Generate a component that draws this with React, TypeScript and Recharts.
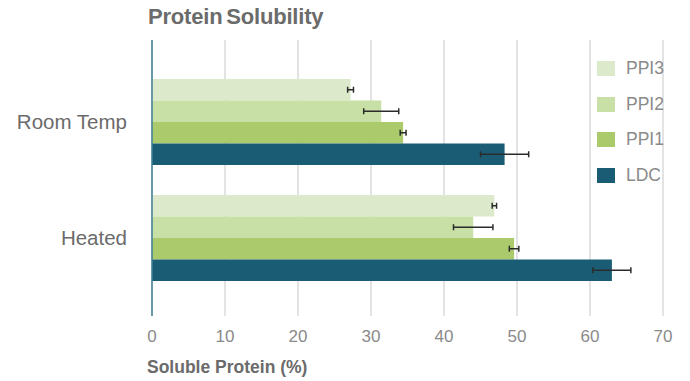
import { BarChart, Bar, XAxis, YAxis, CartesianGrid, ErrorBar, Legend } from "recharts";

const categories = ["Room Temp", "Heated"];

const ppi3 = [27.2, 46.9];
const ppi3Err = [0.4, 0.3];
const ppi2 = [31.4, 44.0];
const ppi2Err = [2.4, 2.7];
const ppi1 = [34.4, 49.6];
const ppi1Err = [0.4, 0.65];
const ldc = [48.3, 63.0];
const ldcErr = [3.3, 2.6];

const xTicks = [0, 10, 20, 30, 40, 50, 60, 70];

// top-to-bottom order within each group
const series = [
    { key: "ppi3", name: "PPI3", color: "#dde9cb" },
    { key: "ppi2", name: "PPI2", color: "#c8dfa5" },
    { key: "ppi1", name: "PPI1", color: "#aaca6c" },
    { key: "ldc", name: "LDC", color: "#1b5c75" },
];

const data = categories.map((name, i) => ({
    name,
    ppi3: ppi3[i],
    ppi3Err: ppi3Err[i],
    ppi2: ppi2[i],
    ppi2Err: ppi2Err[i],
    ppi1: ppi1[i],
    ppi1Err: ppi1Err[i],
    ldc: ldc[i],
    ldcErr: ldcErr[i],
}));

const FONT = "'Liberation Sans', Arial, sans-serif";

function LegendBox() {
    return (
        <div style={{ fontFamily: FONT }}>
            {series.map((s) => (
                <div key={s.key} style={{ display: "flex", alignItems: "center", height: 35.5 }}>
                    <div style={{ width: 18, height: 15, background: s.color, marginRight: 11 }} />
                    <span style={{ fontSize: 17.5, color: "#8a8a8a" }}>{s.name}</span>
                </div>
            ))}
        </div>
    );
}

function AxisTitle(props: any) {
    const { viewBox } = props;
    return (
        <text
            x={viewBox.x - 5}
            y={viewBox.y + 57}
            fill="#6b6b6b"
            fontSize={17.5}
            fontWeight={700}
            fontFamily={FONT}
        >
            Soluble Protein (%)
        </text>
    );
}

export default function App() {
    return (
        <div style={{ position: "absolute", left: 0, top: 0, width: 690, height: 381, background: "#fff" }}>
            <div
                style={{
                    position: "absolute",
                    left: 148,
                    top: 4,
                    fontFamily: FONT,
                    fontWeight: 700,
                    fontSize: 22,
                    color: "#6b6b6b",
                    letterSpacing: -0.2,
                    wordSpacing: -2,
                }}
            >
                Protein Solubility
            </div>
            <BarChart
                width={690}
                height={381}
                data={data}
                layout="vertical"
                margin={{ top: 40, right: 27, bottom: 0, left: 0 }}
                barSize={21.5}
                barGap={0}
            >
                <CartesianGrid horizontal={false} stroke="#e3e3e3" strokeWidth={2} />
                <XAxis
                    type="number"
                    domain={[0, 70]}
                    ticks={xTicks}
                    axisLine={false}
                    tickLine={false}
                    height={65}
                    tickMargin={8}
                    tick={{ fill: "#8a8a8a", fontSize: 17, fontFamily: FONT }}
                    label={<AxisTitle />}
                />
                <YAxis
                    type="category"
                    dataKey="name"
                    width={152}
                    padding={{ top: 24, bottom: 20 }}
                    axisLine={{ stroke: "#3f7f99", strokeWidth: 1.5 }}
                    tickLine={false}
                    tickMargin={19}
                    tick={{ fill: "#6b6b6b", fontSize: 20.5, fontFamily: FONT }}
                />
                <Legend
                    layout="vertical"
                    align="center"
                    verticalAlign="middle"
                    wrapperStyle={{ left: 597, top: 51, width: 90 }}
                    content={<LegendBox />}
                />
                {series.map((s) => (
                    <Bar key={s.key} dataKey={s.key} name={s.name} fill={s.color} isAnimationActive={false}>
                        <ErrorBar
                            dataKey={`${s.key}Err`}
                            direction="x"
                            width={3}
                            stroke="#2b2b2b"
                            strokeWidth={1.5}
                            isAnimationActive={false}
                        />
                    </Bar>
                ))}
            </BarChart>
        </div>
    );
}
